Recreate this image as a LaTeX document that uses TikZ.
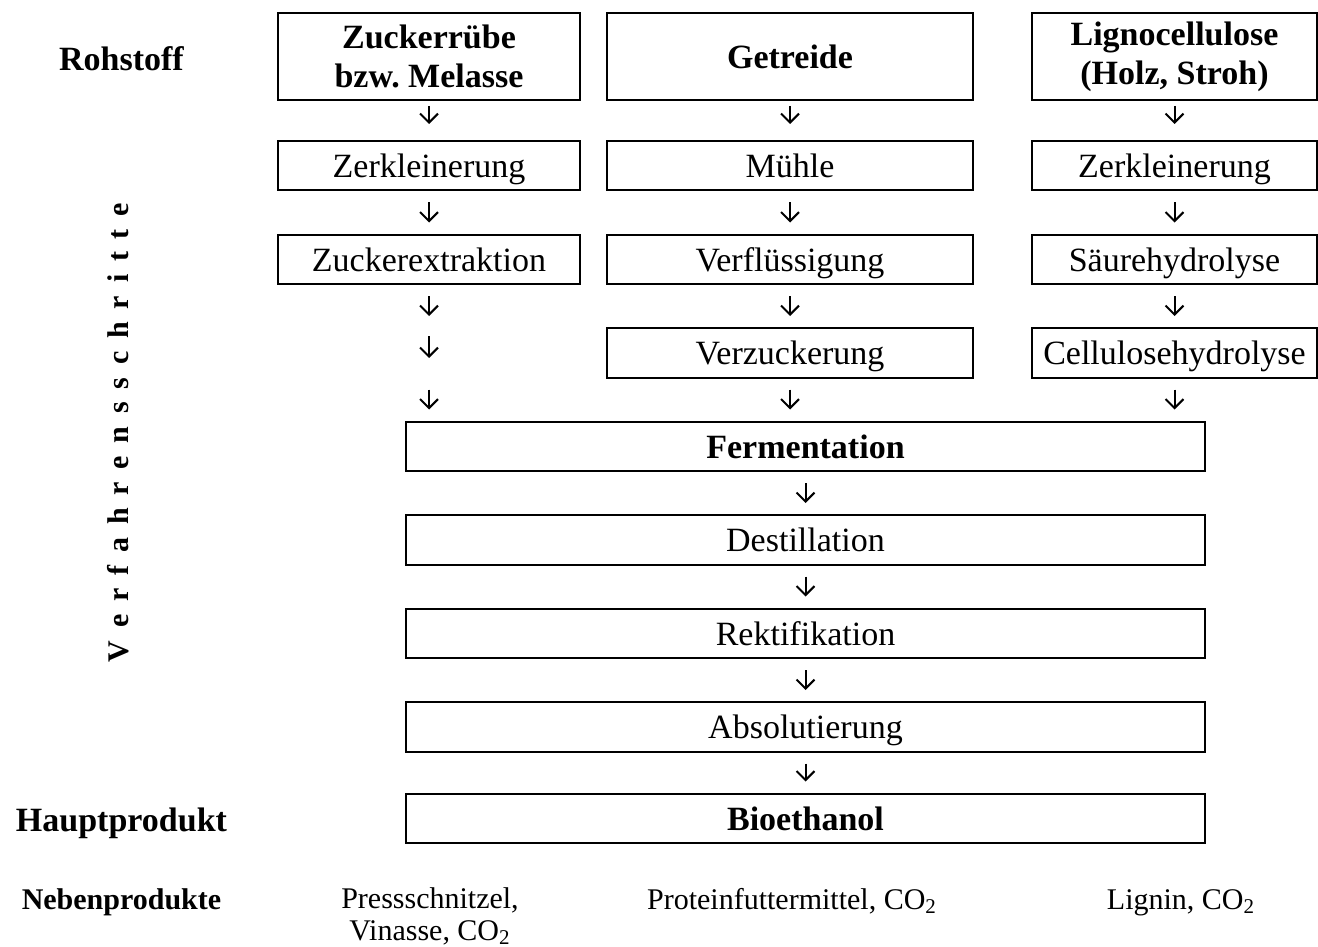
\documentclass[tikz,border=0pt]{standalone}
\usepackage{fontspec}
\setmainfont{Liberation Serif}
\usetikzlibrary{positioning,arrows.meta}

\begin{document}
\begin{tikzpicture}[x=0.5pt,y=-0.5pt,node distance=22pt,
    rahmen/.style={draw,line width=1pt,inner sep=0pt,outer sep=0pt,align=center},
    box/.style={rahmen,minimum height=24.75pt,text height=12.5pt,text depth=0.5pt,font=\fontsize{17}{19.5}\selectfont},
    kopf/.style={rahmen,minimum height=43.5pt,font=\fontsize{17}{19.5}\selectfont\bfseries},
    leer/.style={inner sep=0pt,outer sep=0pt,minimum height=24.75pt},
    seite/.style={font=\fontsize{17}{19.5}\selectfont\bfseries},
    neben/.style={inner sep=0pt,align=center,font=\fontsize{15}{16}\selectfont},
    flow/.style={-{Straight Barb[length=4.5pt,width=9pt]},line width=1pt,shorten <=6pt,shorten >=6pt}]
  \useasboundingbox (0,0) rectangle (1318,947);

  % Rohstoffe
  \node[kopf,minimum width=151pt] (zucker) at (429,56.5) {Zuckerrübe\\bzw.\ Melasse};
  \node[kopf,minimum width=183pt] (getr) at (790,56.5) {Getreide};
  \node[kopf,minimum width=142.5pt] (ligno) at (1174.5,56.5) {Lignocellulose\\(Holz, Stroh)};

  % Zuckerrübe
  \node[box,minimum width=151pt,below=20.5pt of zucker] (zzerk) {Zerkleinerung};
  \node[box,minimum width=151pt,below=of zzerk] (zext) {Zuckerextraktion};
  \node[leer,below=of zext] (zleer) {};

  % Getreide
  \node[box,minimum width=183pt,below=20.5pt of getr] (muehle) {Mühle};
  \node[box,minimum width=183pt,below=of muehle] (verfl) {Verflüssigung};
  \node[box,minimum width=183pt,below=of verfl] (verz) {Verzuckerung};

  % Lignocellulose
  \node[box,minimum width=142.5pt,below=20.5pt of ligno] (lzerk) {Zerkleinerung};
  \node[box,minimum width=142.5pt,below=of lzerk] (saeure) {Säurehydrolyse};
  \node[box,minimum width=142.5pt,below=of saeure] (cell) {Cellulosehydrolyse};

  % gemeinsame Schritte
  \node[box,minimum width=399.5pt,below=of verz,xshift=7.75pt,font=\fontsize{17}{19.5}\selectfont\bfseries] (ferm) {Fermentation};
  \node[box,minimum width=399.5pt,below=of ferm] (dest) {Destillation};
  \node[box,minimum width=399.5pt,below=of dest] (rekt) {Rektifikation};
  \node[box,minimum width=399.5pt,below=of rekt] (abs) {Absolutierung};
  \node[box,minimum width=399.5pt,below=21pt of abs,font=\fontsize{17}{19.5}\selectfont\bfseries] (bio) {Bioethanol};

  % linke Spalte
  \node[seite] (rohstoff) at (121.5,59) {Rohstoff};
  \node[seite] (haupt) at (121.5,823) {Hauptprodukt};
  \node[seite,rotate=90,anchor=base,font=\fontsize{15}{16}\selectfont\bfseries] (schritte) at (128,432.5)
    {\foreach \c [count=\i] in {V,e,r,f,a,h,r,e,n,s,s,c,h,r,i,t,t,e}{\ifnum\i>1\hspace{6.4pt}\fi\c}};
  \node[neben,anchor=base,font=\fontsize{15}{16}\selectfont\bfseries] (nebenlab) at (121.5,909) {Nebenprodukte};

  % Nebenprodukte
  \node[neben,anchor=north] (nzucker) at (430,887) {Pressschnitzel,\\Vinasse, CO\textsubscript{2}};
  \node[neben,anchor=base] (ngetr) at (792,909) {Proteinfuttermittel, CO\textsubscript{2}};
  \node[neben,anchor=base] (nligno) at (1181,909) {Lignin, CO\textsubscript{2}};

  % Pfeile
  \draw[flow,shorten <=3pt,shorten >=8.5pt] (zucker) -- (zzerk);
  \draw[flow,shorten <=3pt,shorten >=8.5pt] (getr) -- (muehle);
  \draw[flow,shorten <=3pt,shorten >=8.5pt] (ligno) -- (lzerk);
  \draw[flow] (zzerk) -- (zext);
  \draw[flow] (muehle) -- (verfl);
  \draw[flow] (lzerk) -- (saeure);
  \draw[flow] (zext) -- (zleer);
  \draw[flow] (verfl) -- (verz);
  \draw[flow] (saeure) -- (cell);
  \draw[flow,shorten <=4pt,shorten >=9.75pt] (zleer.north) -- (zleer.south);
  \draw[flow] (zleer) -- (zleer |- ferm.north);
  \draw[flow] (verz) -- (verz |- ferm.north);
  \draw[flow] (cell) -- (cell |- ferm.north);
  \draw[flow] (ferm) -- (dest);
  \draw[flow] (dest) -- (rekt);
  \draw[flow] (rekt) -- (abs);
  \draw[flow] (abs) -- (bio);
\end{tikzpicture}
\end{document}
